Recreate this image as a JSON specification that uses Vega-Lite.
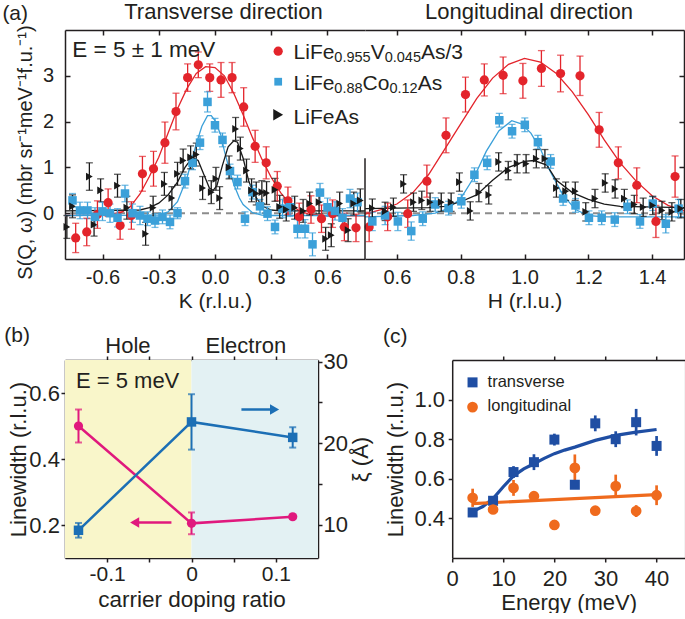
{
  "$schema": "https://vega.github.io/schema/vega-lite/v6.json",
  "padding": {"left": 2, "top": 0, "right": 0, "bottom": 0},
  "background": "white",
  "datasets": {
    "aLpts": [
      {"k": -0.743, "s": -0.54, "e": 0.32, "c": "V"}, {"k": -0.684, "s": -0.41, "e": 0.3, "c": "V"}, {"k": -0.627, "s": -0.03, "e": 0.3, "c": "V"}, {"k": -0.57, "s": 0.23, "e": 0.3, "c": "V"}, {"k": -0.506, "s": -0.27, "e": 0.3, "c": "V"}, {"k": -0.446, "s": -0.05, "e": 0.3, "c": "V"}, {"k": -0.387, "s": 0.86, "e": 0.38, "c": "V"}, {"k": -0.328, "s": 0.97, "e": 0.38, "c": "V"}, {"k": -0.267, "s": 1.54, "e": 0.45, "c": "V"}, {"k": -0.208, "s": 2.22, "e": 0.4, "c": "V"}, {"k": -0.146, "s": 2.96, "e": 0.3, "c": "V"}, {"k": -0.089, "s": 3.24, "e": 0.28, "c": "V"}, {"k": -0.028, "s": 2.96, "e": 0.3, "c": "V"}, {"k": 0.032, "s": 2.91, "e": 0.38, "c": "V"}, {"k": 0.091, "s": 2.96, "e": 0.33, "c": "V"}, {"k": 0.153, "s": 2.32, "e": 0.42, "c": "V"}, {"k": 0.214, "s": 1.46, "e": 0.35, "c": "V"}, {"k": 0.273, "s": 1.1, "e": 0.35, "c": "V"}, {"k": 0.332, "s": 0.59, "e": 0.32, "c": "V"}, {"k": 0.389, "s": 0.27, "e": 0.3, "c": "V"}, {"k": 0.449, "s": -0.08, "e": 0.3, "c": "V"}, {"k": 0.512, "s": 0.08, "e": 0.3, "c": "V"}, {"k": 0.568, "s": -0.12, "e": 0.3, "c": "V"}, {"k": 0.627, "s": -0.01, "e": 0.3, "c": "V"}, {"k": 0.69, "s": -0.3, "e": 0.3, "c": "V"}, {"k": 0.752, "s": -0.32, "e": 0.3, "c": "V"},
      {"k": -0.76, "s": 0.28, "e": 0.15, "c": "Co"}, {"k": -0.72, "s": 0.06, "e": 0.18, "c": "Co"}, {"k": -0.68, "s": 0.06, "e": 0.18, "c": "Co"}, {"k": -0.64, "s": -0.08, "e": 0.2, "c": "Co"}, {"k": -0.6, "s": 0.04, "e": 0.2, "c": "Co"}, {"k": -0.56, "s": 0.0, "e": 0.2, "c": "Co"}, {"k": -0.52, "s": -0.1, "e": 0.2, "c": "Co"}, {"k": -0.48, "s": 0.43, "e": 0.18, "c": "Co"}, {"k": -0.44, "s": 0.0, "e": 0.2, "c": "Co"}, {"k": -0.4, "s": -0.05, "e": 0.2, "c": "Co"}, {"k": -0.36, "s": -0.12, "e": 0.15, "c": "Co"}, {"k": -0.32, "s": -0.16, "e": 0.15, "c": "Co"}, {"k": -0.28, "s": -0.08, "e": 0.15, "c": "Co"}, {"k": -0.24, "s": -0.19, "e": 0.15, "c": "Co"}, {"k": -0.2, "s": 0.0, "e": 0.12, "c": "Co"}, {"k": -0.16, "s": 0.7, "e": 0.15, "c": "Co"}, {"k": -0.12, "s": 1.1, "e": 0.15, "c": "Co"}, {"k": -0.08, "s": 1.54, "e": 0.15, "c": "Co"}, {"k": -0.04, "s": 2.43, "e": 0.22, "c": "Co"}, {"k": 0.0, "s": 1.92, "e": 0.15, "c": "Co"}, {"k": 0.04, "s": 1.6, "e": 0.15, "c": "Co"}, {"k": 0.08, "s": 0.92, "e": 0.15, "c": "Co"}, {"k": 0.12, "s": 0.68, "e": 0.15, "c": "Co"}, {"k": 0.16, "s": -0.12, "e": 0.15, "c": "Co"}, {"k": 0.2, "s": 0.46, "e": 0.15, "c": "Co"}, {"k": 0.24, "s": 0.15, "e": 0.15, "c": "Co"}, {"k": 0.28, "s": -0.01, "e": 0.15, "c": "Co"}, {"k": 0.32, "s": -0.3, "e": 0.15, "c": "Co"}, {"k": 0.36, "s": 0.1, "e": 0.2, "c": "Co"}, {"k": 0.4, "s": 0.13, "e": 0.2, "c": "Co"}, {"k": 0.44, "s": -0.34, "e": 0.2, "c": "Co"}, {"k": 0.48, "s": -0.34, "e": 0.2, "c": "Co"}, {"k": 0.52, "s": -0.68, "e": 0.25, "c": "Co"}, {"k": 0.56, "s": 0.45, "e": 0.2, "c": "Co"}, {"k": 0.6, "s": 0.13, "e": 0.2, "c": "Co"}, {"k": 0.64, "s": 0.05, "e": 0.2, "c": "Co"}, {"k": 0.68, "s": -0.1, "e": 0.2, "c": "Co"}, {"k": 0.72, "s": 0.32, "e": 0.2, "c": "Co"}, {"k": 0.76, "s": 0.24, "e": 0.2, "c": "Co"},
      {"k": -0.79, "s": -0.3, "e": 0.25, "c": "As"}, {"k": -0.76, "s": 0.15, "e": 0.25, "c": "As"}, {"k": -0.67, "s": 0.8, "e": 0.3, "c": "As"}, {"k": -0.645, "s": -0.25, "e": 0.25, "c": "As"}, {"k": -0.61, "s": 0.5, "e": 0.25, "c": "As"}, {"k": -0.52, "s": 0.6, "e": 0.25, "c": "As"}, {"k": -0.47, "s": 0.12, "e": 0.25, "c": "As"}, {"k": -0.37, "s": -0.45, "e": 0.25, "c": "As"}, {"k": -0.33, "s": 0.12, "e": 0.25, "c": "As"}, {"k": -0.27, "s": 0.64, "e": 0.25, "c": "As"}, {"k": -0.23, "s": 0.33, "e": 0.25, "c": "As"}, {"k": -0.2, "s": 0.86, "e": 0.25, "c": "As"}, {"k": -0.17, "s": 1.15, "e": 0.25, "c": "As"}, {"k": -0.13, "s": 1.22, "e": 0.25, "c": "As"}, {"k": -0.1, "s": 1.28, "e": 0.25, "c": "As"}, {"k": -0.066, "s": 0.55, "e": 0.25, "c": "As"}, {"k": -0.02, "s": 0.46, "e": 0.25, "c": "As"}, {"k": 0.005, "s": 0.75, "e": 0.25, "c": "As"}, {"k": 0.025, "s": 0.33, "e": 0.25, "c": "As"}, {"k": 0.075, "s": 1.0, "e": 0.25, "c": "As"}, {"k": 0.11, "s": 1.84, "e": 0.25, "c": "As"}, {"k": 0.135, "s": 1.41, "e": 0.25, "c": "As"}, {"k": 0.168, "s": 0.93, "e": 0.25, "c": "As"}, {"k": 0.195, "s": 0.5, "e": 0.25, "c": "As"}, {"k": 0.22, "s": 0.43, "e": 0.25, "c": "As"}, {"k": 0.25, "s": 0.46, "e": 0.25, "c": "As"}, {"k": 0.275, "s": 0.44, "e": 0.25, "c": "As"}, {"k": 0.32, "s": 0.51, "e": 0.25, "c": "As"}, {"k": 0.345, "s": 0.14, "e": 0.25, "c": "As"}, {"k": 0.38, "s": 0.08, "e": 0.25, "c": "As"}, {"k": 0.425, "s": 0.12, "e": 0.25, "c": "As"}, {"k": 0.47, "s": 0.05, "e": 0.25, "c": "As"}, {"k": 0.505, "s": 0.21, "e": 0.25, "c": "As"}, {"k": 0.555, "s": 0.24, "e": 0.25, "c": "As"}, {"k": 0.59, "s": -0.56, "e": 0.25, "c": "As"}, {"k": 0.62, "s": -0.48, "e": 0.25, "c": "As"}, {"k": 0.665, "s": 0.21, "e": 0.25, "c": "As"}, {"k": 0.71, "s": -0.37, "e": 0.25, "c": "As"}, {"k": 0.74, "s": 0.21, "e": 0.25, "c": "As"}, {"k": 0.775, "s": 0.28, "e": 0.25, "c": "As"}
    ],
    "aLfit": [
      {"k": -0.8, "s": -0.05, "c": "V"}, {"k": -0.6, "s": -0.04, "c": "V"}, {"k": -0.5, "s": 0.02, "c": "V"}, {"k": -0.45, "s": 0.15, "c": "V"}, {"k": -0.4, "s": 0.42, "c": "V"}, {"k": -0.35, "s": 0.8, "c": "V"}, {"k": -0.3, "s": 1.22, "c": "V"}, {"k": -0.25, "s": 1.75, "c": "V"}, {"k": -0.2, "s": 2.28, "c": "V"}, {"k": -0.15, "s": 2.72, "c": "V"}, {"k": -0.1, "s": 3.05, "c": "V"}, {"k": -0.05, "s": 3.2, "c": "V"}, {"k": 0.0, "s": 3.18, "c": "V"}, {"k": 0.05, "s": 3.0, "c": "V"}, {"k": 0.1, "s": 2.62, "c": "V"}, {"k": 0.15, "s": 2.15, "c": "V"}, {"k": 0.2, "s": 1.65, "c": "V"}, {"k": 0.25, "s": 1.18, "c": "V"}, {"k": 0.3, "s": 0.78, "c": "V"}, {"k": 0.35, "s": 0.45, "c": "V"}, {"k": 0.4, "s": 0.2, "c": "V"}, {"k": 0.45, "s": 0.05, "c": "V"}, {"k": 0.5, "s": -0.02, "c": "V"}, {"k": 0.6, "s": -0.06, "c": "V"}, {"k": 0.8, "s": -0.06, "c": "V"},
      {"k": -0.8, "s": -0.05, "c": "Co"}, {"k": -0.3, "s": -0.04, "c": "Co"}, {"k": -0.25, "s": 0.03, "c": "Co"}, {"k": -0.2, "s": 0.25, "c": "Co"}, {"k": -0.15, "s": 0.77, "c": "Co"}, {"k": -0.1, "s": 1.51, "c": "Co"}, {"k": -0.07, "s": 1.9, "c": "Co"}, {"k": -0.04, "s": 2.13, "c": "Co"}, {"k": -0.02, "s": 2.13, "c": "Co"}, {"k": 0.0, "s": 2.02, "c": "Co"}, {"k": 0.03, "s": 1.72, "c": "Co"}, {"k": 0.05, "s": 1.36, "c": "Co"}, {"k": 0.08, "s": 0.9, "c": "Co"}, {"k": 0.1, "s": 0.63, "c": "Co"}, {"k": 0.13, "s": 0.33, "c": "Co"}, {"k": 0.15, "s": 0.19, "c": "Co"}, {"k": 0.2, "s": 0.01, "c": "Co"}, {"k": 0.25, "s": -0.04, "c": "Co"}, {"k": 0.3, "s": -0.05, "c": "Co"}, {"k": 0.8, "s": -0.05, "c": "Co"},
      {"k": -0.8, "s": 0.05, "c": "As"}, {"k": -0.4, "s": 0.07, "c": "As"}, {"k": -0.35, "s": 0.12, "c": "As"}, {"k": -0.3, "s": 0.22, "c": "As"}, {"k": -0.25, "s": 0.4, "c": "As"}, {"k": -0.2, "s": 0.68, "c": "As"}, {"k": -0.16, "s": 1.0, "c": "As"}, {"k": -0.12, "s": 1.22, "c": "As"}, {"k": -0.09, "s": 1.15, "c": "As"}, {"k": -0.06, "s": 0.85, "c": "As"}, {"k": -0.03, "s": 0.55, "c": "As"}, {"k": -0.01, "s": 0.5, "c": "As"}, {"k": 0.01, "s": 0.6, "c": "As"}, {"k": 0.04, "s": 1.05, "c": "As"}, {"k": 0.07, "s": 1.45, "c": "As"}, {"k": 0.1, "s": 1.58, "c": "As"}, {"k": 0.12, "s": 1.55, "c": "As"}, {"k": 0.15, "s": 1.2, "c": "As"}, {"k": 0.18, "s": 0.7, "c": "As"}, {"k": 0.21, "s": 0.4, "c": "As"}, {"k": 0.23, "s": 0.28, "c": "As"}, {"k": 0.26, "s": 0.14, "c": "As"}, {"k": 0.3, "s": 0.07, "c": "As"}, {"k": 0.35, "s": 0.05, "c": "As"}, {"k": 0.8, "s": 0.05, "c": "As"}
    ],
    "aRpts": [
      {"h": 0.513, "s": -0.3, "e": 0.32, "c": "V"}, {"h": 0.571, "s": -0.08, "e": 0.3, "c": "V"}, {"h": 0.634, "s": -0.01, "e": 0.3, "c": "V"}, {"h": 0.694, "s": 0.7, "e": 0.35, "c": "V"}, {"h": 0.754, "s": 1.7, "e": 0.38, "c": "V"}, {"h": 0.815, "s": 2.59, "e": 0.38, "c": "V"}, {"h": 0.874, "s": 2.91, "e": 0.35, "c": "V"}, {"h": 0.933, "s": 3.01, "e": 0.4, "c": "V"}, {"h": 0.995, "s": 2.89, "e": 0.38, "c": "V"}, {"h": 1.053, "s": 3.16, "e": 0.39, "c": "V"}, {"h": 1.113, "s": 3.05, "e": 0.4, "c": "V"}, {"h": 1.174, "s": 3.0, "e": 0.43, "c": "V"}, {"h": 1.234, "s": 1.82, "e": 0.38, "c": "V"}, {"h": 1.294, "s": 1.1, "e": 0.35, "c": "V"}, {"h": 1.352, "s": 0.61, "e": 0.38, "c": "V"}, {"h": 1.412, "s": -0.18, "e": 0.35, "c": "V"}, {"h": 1.472, "s": 0.8, "e": 0.45, "c": "V"},
      {"h": 0.523, "s": -0.18, "e": 0.2, "c": "Co"}, {"h": 0.563, "s": -0.05, "e": 0.2, "c": "Co"}, {"h": 0.603, "s": -0.18, "e": 0.2, "c": "Co"}, {"h": 0.645, "s": -0.39, "e": 0.2, "c": "Co"}, {"h": 0.681, "s": -0.12, "e": 0.15, "c": "Co"}, {"h": 0.72, "s": 0.19, "e": 0.15, "c": "Co"}, {"h": 0.762, "s": 0.11, "e": 0.15, "c": "Co"}, {"h": 0.802, "s": 0.26, "e": 0.15, "c": "Co"}, {"h": 0.843, "s": 0.84, "e": 0.15, "c": "Co"}, {"h": 0.883, "s": 1.1, "e": 0.15, "c": "Co"}, {"h": 0.921, "s": 2.03, "e": 0.15, "c": "Co"}, {"h": 0.961, "s": 1.79, "e": 0.15, "c": "Co"}, {"h": 1.001, "s": 1.93, "e": 0.15, "c": "Co"}, {"h": 1.042, "s": 1.55, "e": 0.15, "c": "Co"}, {"h": 1.082, "s": 1.13, "e": 0.15, "c": "Co"}, {"h": 1.121, "s": 0.32, "e": 0.15, "c": "Co"}, {"h": 1.16, "s": 0.17, "e": 0.15, "c": "Co"}, {"h": 1.202, "s": -0.1, "e": 0.15, "c": "Co"}, {"h": 1.242, "s": -0.1, "e": 0.15, "c": "Co"}, {"h": 1.283, "s": -0.14, "e": 0.15, "c": "Co"}, {"h": 1.323, "s": 0.14, "e": 0.15, "c": "Co"}, {"h": 1.362, "s": -0.18, "e": 0.15, "c": "Co"}, {"h": 1.402, "s": 0.21, "e": 0.15, "c": "Co"}, {"h": 1.443, "s": -0.23, "e": 0.2, "c": "Co"}, {"h": 1.483, "s": 0.1, "e": 0.2, "c": "Co"},
      {"h": 0.523, "s": 0.11, "e": 0.2, "c": "As"}, {"h": 0.563, "s": 0.04, "e": 0.2, "c": "As"}, {"h": 0.589, "s": 0.13, "e": 0.2, "c": "As"}, {"h": 0.621, "s": 0.64, "e": 0.2, "c": "As"}, {"h": 0.652, "s": 0.24, "e": 0.2, "c": "As"}, {"h": 0.678, "s": 0.28, "e": 0.2, "c": "As"}, {"h": 0.704, "s": 0.24, "e": 0.2, "c": "As"}, {"h": 0.739, "s": 0.24, "e": 0.2, "c": "As"}, {"h": 0.77, "s": 0.24, "e": 0.2, "c": "As"}, {"h": 0.796, "s": 0.68, "e": 0.2, "c": "As"}, {"h": 0.83, "s": 0.05, "e": 0.2, "c": "As"}, {"h": 0.857, "s": 0.45, "e": 0.2, "c": "As"}, {"h": 0.888, "s": 0.4, "e": 0.2, "c": "As"}, {"h": 0.919, "s": 1.12, "e": 0.2, "c": "As"}, {"h": 0.949, "s": 0.93, "e": 0.2, "c": "As"}, {"h": 0.977, "s": 1.08, "e": 0.2, "c": "As"}, {"h": 1.005, "s": 1.08, "e": 0.2, "c": "As"}, {"h": 1.037, "s": 1.19, "e": 0.2, "c": "As"}, {"h": 1.064, "s": 1.19, "e": 0.2, "c": "As"}, {"h": 1.1, "s": 0.55, "e": 0.2, "c": "As"}, {"h": 1.129, "s": 0.48, "e": 0.2, "c": "As"}, {"h": 1.159, "s": 0.48, "e": 0.2, "c": "As"}, {"h": 1.192, "s": 0.03, "e": 0.2, "c": "As"}, {"h": 1.221, "s": 0.32, "e": 0.2, "c": "As"}, {"h": 1.253, "s": 0.66, "e": 0.2, "c": "As"}, {"h": 1.284, "s": 0.53, "e": 0.2, "c": "As"}, {"h": 1.313, "s": 0.32, "e": 0.2, "c": "As"}, {"h": 1.344, "s": 0.19, "e": 0.2, "c": "As"}, {"h": 1.372, "s": 0.13, "e": 0.2, "c": "As"}, {"h": 1.402, "s": 0.17, "e": 0.2, "c": "As"}, {"h": 1.431, "s": 0.06, "e": 0.2, "c": "As"}, {"h": 1.462, "s": 0.03, "e": 0.2, "c": "As"}, {"h": 1.49, "s": 0.1, "e": 0.2, "c": "As"}
    ],
    "aRfit": [
      {"h": 0.5, "s": -0.02, "c": "V"}, {"h": 0.55, "s": 0.08, "c": "V"}, {"h": 0.6, "s": 0.2, "c": "V"}, {"h": 0.65, "s": 0.45, "c": "V"}, {"h": 0.7, "s": 0.85, "c": "V"}, {"h": 0.75, "s": 1.4, "c": "V"}, {"h": 0.8, "s": 1.95, "c": "V"}, {"h": 0.85, "s": 2.5, "c": "V"}, {"h": 0.9, "s": 2.95, "c": "V"}, {"h": 0.95, "s": 3.25, "c": "V"}, {"h": 1.0, "s": 3.38, "c": "V"}, {"h": 1.05, "s": 3.3, "c": "V"}, {"h": 1.1, "s": 3.05, "c": "V"}, {"h": 1.15, "s": 2.65, "c": "V"}, {"h": 1.2, "s": 2.15, "c": "V"}, {"h": 1.25, "s": 1.6, "c": "V"}, {"h": 1.3, "s": 1.1, "c": "V"}, {"h": 1.35, "s": 0.7, "c": "V"}, {"h": 1.4, "s": 0.38, "c": "V"}, {"h": 1.45, "s": 0.17, "c": "V"}, {"h": 1.5, "s": 0.05, "c": "V"},
      {"h": 0.5, "s": -0.08, "c": "Co"}, {"h": 0.65, "s": -0.05, "c": "Co"}, {"h": 0.72, "s": 0.0, "c": "Co"}, {"h": 0.76, "s": 0.1, "c": "Co"}, {"h": 0.8, "s": 0.32, "c": "Co"}, {"h": 0.843, "s": 0.8, "c": "Co"}, {"h": 0.88, "s": 1.35, "c": "Co"}, {"h": 0.92, "s": 1.8, "c": "Co"}, {"h": 0.96, "s": 2.02, "c": "Co"}, {"h": 0.99, "s": 1.95, "c": "Co"}, {"h": 1.02, "s": 1.75, "c": "Co"}, {"h": 1.05, "s": 1.4, "c": "Co"}, {"h": 1.08, "s": 0.92, "c": "Co"}, {"h": 1.12, "s": 0.4, "c": "Co"}, {"h": 1.16, "s": 0.08, "c": "Co"}, {"h": 1.2, "s": -0.05, "c": "Co"}, {"h": 1.25, "s": -0.08, "c": "Co"}, {"h": 1.5, "s": -0.08, "c": "Co"},
      {"h": 0.5, "s": 0.1, "c": "As"}, {"h": 0.7, "s": 0.12, "c": "As"}, {"h": 0.75, "s": 0.15, "c": "As"}, {"h": 0.8, "s": 0.25, "c": "As"}, {"h": 0.85, "s": 0.4, "c": "As"}, {"h": 0.9, "s": 0.72, "c": "As"}, {"h": 0.95, "s": 1.0, "c": "As"}, {"h": 1.0, "s": 1.13, "c": "As"}, {"h": 1.03, "s": 1.15, "c": "As"}, {"h": 1.07, "s": 1.05, "c": "As"}, {"h": 1.1, "s": 0.72, "c": "As"}, {"h": 1.15, "s": 0.45, "c": "As"}, {"h": 1.2, "s": 0.3, "c": "As"}, {"h": 1.25, "s": 0.2, "c": "As"}, {"h": 1.3, "s": 0.15, "c": "As"}, {"h": 1.5, "s": 0.12, "c": "As"}
    ],
    "bw": [
      {"d": -0.134, "w": 0.5, "e": 0.05}, {"d": 0.0, "w": 0.205, "e": 0.033}, {"d": 0.12, "w": 0.225, "e": 0.006}
    ],
    "bx": [
      {"d": -0.134, "xi": 9.3, "e": 0.9}, {"d": 0.0, "xi": 22.6, "e": 3.4}, {"d": 0.12, "xi": 20.7, "e": 1.25}
    ],
    "cpts": [
      {"en": 4, "w": 0.43, "e": 0.0, "c": "T"}, {"en": 8, "w": 0.489, "e": 0.02, "c": "T"}, {"en": 12, "w": 0.634, "e": 0.03, "c": "T"}, {"en": 16, "w": 0.684, "e": 0.04, "c": "T"}, {"en": 20, "w": 0.798, "e": 0.03, "c": "T"}, {"en": 24, "w": 0.57, "e": 0.01, "c": "T"}, {"en": 28, "w": 0.88, "e": 0.04, "c": "T"}, {"en": 32, "w": 0.8, "e": 0.04, "c": "T"}, {"en": 36, "w": 0.886, "e": 0.067, "c": "T"}, {"en": 40, "w": 0.766, "e": 0.05, "c": "T"},
      {"en": 4, "w": 0.504, "e": 0.046, "c": "L"}, {"en": 8, "w": 0.445, "e": 0.02, "c": "L"}, {"en": 12, "w": 0.554, "e": 0.04, "c": "L"}, {"en": 16, "w": 0.512, "e": 0.02, "c": "L"}, {"en": 20, "w": 0.367, "e": 0.0, "c": "L"}, {"en": 24, "w": 0.655, "e": 0.068, "c": "L"}, {"en": 28, "w": 0.439, "e": 0.01, "c": "L"}, {"en": 32, "w": 0.563, "e": 0.058, "c": "L"}, {"en": 36, "w": 0.437, "e": 0.03, "c": "L"}, {"en": 40, "w": 0.517, "e": 0.05, "c": "L"}
    ],
    "cfit": [
      {"en": 4, "w": 0.434, "c": "T"}, {"en": 6, "w": 0.46, "c": "T"}, {"en": 8, "w": 0.5, "c": "T"}, {"en": 10, "w": 0.56, "c": "T"}, {"en": 12, "w": 0.615, "c": "T"}, {"en": 14, "w": 0.65, "c": "T"}, {"en": 16, "w": 0.676, "c": "T"}, {"en": 18, "w": 0.703, "c": "T"}, {"en": 20, "w": 0.727, "c": "T"}, {"en": 22, "w": 0.745, "c": "T"}, {"en": 24, "w": 0.76, "c": "T"}, {"en": 28, "w": 0.794, "c": "T"}, {"en": 32, "w": 0.819, "c": "T"}, {"en": 36, "w": 0.836, "c": "T"}, {"en": 40, "w": 0.849, "c": "T"},
      {"en": 4, "w": 0.475, "c": "L"}, {"en": 40, "w": 0.52, "c": "L"}
    ]
  },
  "spacing": 12,
  "bounds": "full",
  "resolve": {"scale": {"color": "independent", "shape": "independent", "size": "independent"}},
  "vconcat": [
    {
      "hconcat": [
        {
          "width": 300, "height": 229,
          "data": {"values": [{}]},
          "resolve": {"axis": {"x": "independent", "y": "independent"}},
          "layer": [
            {"mark": {"type": "rule", "color": "#8c8c8c", "strokeDash": [7, 5], "strokeWidth": 2},
             "encoding": {"y": {"datum": 0, "type": "quantitative", "scale": {"domain": [-1, 4], "nice": false, "zero": false}, "axis": null}}},
            {"data": {"name": "aLfit"}, "mark": {"type": "line", "strokeWidth": 1.3},
             "encoding": {
               "x": {"field": "k", "type": "quantitative", "scale": {"domain": [-0.8, 0.8], "nice": false, "zero": false},
                     "axis": {"values": [-0.6, -0.3, 0, 0.3, 0.6], "title": "K (r.l.u.)", "labelExpr": "replace(datum.label, '\u2212', '-')", "labelFontSize": 20, "labelPadding": 13.5, "titlePadding": 3, "titleFontSize": 21}},
               "y": {"field": "s", "type": "quantitative",
                     "axis": {"values": [0, 1, 2, 3], "title": "S(Q, ω) (mbr sr⁻¹meV⁻¹f.u.⁻¹)", "titleFontSize": 20, "labelFontSize": 20, "labelPadding": 16.3, "titlePadding": 7, "titleY": 122}},
               "color": {"field": "c", "type": "nominal", "scale": {"domain": ["V", "Co", "As"], "range": ["#e3242b", "#3ba0d9", "#1a1a1a"]}, "legend": null}}},
            {"data": {"name": "aLpts"}, "mark": {"type": "errorbar", "ticks": {"size": 7, "thickness": 1.3}, "thickness": 1.3},
             "encoding": {"x": {"field": "k", "type": "quantitative", "axis": null}, "y": {"field": "s", "type": "quantitative", "axis": null}, "yError": {"field": "e"}, "color": {"field": "c", "type": "nominal", "legend": null}}},
            {"data": {"name": "aLpts"}, "mark": {"type": "point", "filled": true, "opacity": 1},
             "encoding": {
               "x": {"field": "k", "type": "quantitative", "axis": {"orient": "top", "values": [-0.6, -0.3, 0, 0.3, 0.6], "labels": false, "title": null}},
               "y": {"field": "s", "type": "quantitative", "axis": null},
               "color": {"field": "c", "type": "nominal", "legend": null},
               "shape": {"field": "c", "type": "nominal", "scale": {"domain": ["V", "Co", "As"], "range": ["circle", "square", "triangle-right"]}, "legend": null},
               "size": {"field": "c", "type": "nominal", "scale": {"domain": ["V", "Co", "As"], "range": [85, 60, 130]}, "legend": null}}},
            {"mark": {"type": "text", "text": "(a)", "fontSize": 21, "align": "left", "baseline": "alphabetic"},
             "encoding": {"x": {"datum": -1.134, "type": "quantitative", "axis": null}, "y": {"datum": 4.214, "type": "quantitative", "axis": null}}},
            {"mark": {"type": "text", "text": "Transverse direction", "fontSize": 22, "align": "center", "baseline": "alphabetic"},
             "encoding": {"x": {"datum": 0.045, "type": "quantitative", "axis": null}, "y": {"datum": 4.25, "type": "quantitative", "axis": null}}},
            {"mark": {"type": "text", "text": "E = 5 ± 1 meV", "fontSize": 22.5, "align": "left", "baseline": "alphabetic"},
             "encoding": {"x": {"datum": -0.761, "type": "quantitative", "axis": null}, "y": {"datum": 3.41, "type": "quantitative", "axis": null}}},
            {"mark": {"type": "point", "filled": true, "opacity": 1, "shape": "circle", "size": 85, "color": "#e3242b"},
             "encoding": {"x": {"datum": 0.337, "type": "quantitative", "axis": null}, "y": {"datum": 3.537, "type": "quantitative", "axis": null}}},
            {"mark": {"type": "point", "filled": true, "opacity": 1, "shape": "square", "size": 60, "color": "#3ba0d9"},
             "encoding": {"x": {"datum": 0.337, "type": "quantitative", "axis": null}, "y": {"datum": 2.871, "type": "quantitative", "axis": null}}},
            {"mark": {"type": "point", "filled": true, "opacity": 1, "shape": "triangle-right", "size": 130, "color": "#1a1a1a"},
             "encoding": {"x": {"datum": 0.337, "type": "quantitative", "axis": null}, "y": {"datum": 2.151, "type": "quantitative", "axis": null}}},
            {"mark": {"type": "text", "text": "LiFe", "fontSize": 21, "align": "left", "baseline": "alphabetic"},
             "encoding": {"x": {"datum": 0.419, "type": "quantitative", "axis": null}, "y": {"datum": 3.358, "type": "quantitative", "axis": null}}},
            {"mark": {"type": "text", "text": "0.955", "fontSize": 14.5, "align": "left", "baseline": "alphabetic", "dx": 40.8, "dy": 3},
             "encoding": {"x": {"datum": 0.419, "type": "quantitative", "axis": null}, "y": {"datum": 3.358, "type": "quantitative", "axis": null}}},
            {"mark": {"type": "text", "text": "V", "fontSize": 21, "align": "left", "baseline": "alphabetic", "dx": 77.1},
             "encoding": {"x": {"datum": 0.419, "type": "quantitative", "axis": null}, "y": {"datum": 3.358, "type": "quantitative", "axis": null}}},
            {"mark": {"type": "text", "text": "0.045", "fontSize": 14.5, "align": "left", "baseline": "alphabetic", "dx": 91.1, "dy": 3},
             "encoding": {"x": {"datum": 0.419, "type": "quantitative", "axis": null}, "y": {"datum": 3.358, "type": "quantitative", "axis": null}}},
            {"mark": {"type": "text", "text": "As/3", "fontSize": 21, "align": "left", "baseline": "alphabetic", "dx": 127.4},
             "encoding": {"x": {"datum": 0.419, "type": "quantitative", "axis": null}, "y": {"datum": 3.358, "type": "quantitative", "axis": null}}},
            {"mark": {"type": "text", "text": "LiFe", "fontSize": 21, "align": "left", "baseline": "alphabetic"},
             "encoding": {"x": {"datum": 0.419, "type": "quantitative", "axis": null}, "y": {"datum": 2.697, "type": "quantitative", "axis": null}}},
            {"mark": {"type": "text", "text": "0.88", "fontSize": 14.5, "align": "left", "baseline": "alphabetic", "dx": 40.8, "dy": 3},
             "encoding": {"x": {"datum": 0.419, "type": "quantitative", "axis": null}, "y": {"datum": 2.697, "type": "quantitative", "axis": null}}},
            {"mark": {"type": "text", "text": "Co", "fontSize": 21, "align": "left", "baseline": "alphabetic", "dx": 69.0},
             "encoding": {"x": {"datum": 0.419, "type": "quantitative", "axis": null}, "y": {"datum": 2.697, "type": "quantitative", "axis": null}}},
            {"mark": {"type": "text", "text": "0.12", "fontSize": 14.5, "align": "left", "baseline": "alphabetic", "dx": 95.9, "dy": 3},
             "encoding": {"x": {"datum": 0.419, "type": "quantitative", "axis": null}, "y": {"datum": 2.697, "type": "quantitative", "axis": null}}},
            {"mark": {"type": "text", "text": "As", "fontSize": 21, "align": "left", "baseline": "alphabetic", "dx": 124.1},
             "encoding": {"x": {"datum": 0.419, "type": "quantitative", "axis": null}, "y": {"datum": 2.697, "type": "quantitative", "axis": null}}},
            {"mark": {"type": "text", "text": "LiFeAs", "fontSize": 21, "align": "left", "baseline": "alphabetic"},
             "encoding": {"x": {"datum": 0.419, "type": "quantitative", "axis": null}, "y": {"datum": 1.954, "type": "quantitative", "axis": null}}}
          ]
        },
        {
          "width": 319, "height": 229,
          "data": {"values": [{}]},
          "resolve": {"axis": {"x": "independent", "y": "independent"}},
          "layer": [
            {"mark": {"type": "rule", "color": "#8c8c8c", "strokeDash": [7, 5], "strokeWidth": 2},
             "encoding": {"y": {"datum": 0, "type": "quantitative", "scale": {"domain": [-1, 4], "nice": false, "zero": false}, "axis": null}}},
            {"data": {"name": "aRfit"}, "mark": {"type": "line", "strokeWidth": 1.3},
             "encoding": {
               "x": {"field": "h", "type": "quantitative", "scale": {"domain": [0.5, 1.5], "nice": false, "zero": false},
                     "axis": {"values": [0.6, 0.8, 1.0, 1.2, 1.4], "format": ".1f", "title": "H (r.l.u.)", "labelFontSize": 20, "labelPadding": 13.5, "titlePadding": 3, "titleFontSize": 21}},
               "y": {"field": "s", "type": "quantitative", "axis": null},
               "color": {"field": "c", "type": "nominal", "scale": {"domain": ["V", "Co", "As"], "range": ["#e3242b", "#3ba0d9", "#1a1a1a"]}, "legend": null}}},
            {"data": {"name": "aRpts"}, "mark": {"type": "errorbar", "ticks": {"size": 7, "thickness": 1.3}, "thickness": 1.3},
             "encoding": {"x": {"field": "h", "type": "quantitative", "axis": null}, "y": {"field": "s", "type": "quantitative", "axis": null}, "yError": {"field": "e"}, "color": {"field": "c", "type": "nominal", "legend": null}}},
            {"data": {"name": "aRpts"}, "mark": {"type": "point", "filled": true, "opacity": 1},
             "encoding": {
               "x": {"field": "h", "type": "quantitative", "axis": {"orient": "top", "values": [0.6, 0.8, 1.0, 1.2, 1.4], "labels": false, "title": null}},
               "y": {"field": "s", "type": "quantitative", "axis": {"orient": "right", "values": [0, 1, 2, 3], "labels": false, "title": null}},
               "color": {"field": "c", "type": "nominal", "legend": null},
               "shape": {"field": "c", "type": "nominal", "scale": {"domain": ["V", "Co", "As"], "range": ["circle", "square", "triangle-right"]}, "legend": null},
               "size": {"field": "c", "type": "nominal", "scale": {"domain": ["V", "Co", "As"], "range": [85, 60, 130]}, "legend": null}}},
            {"mark": {"type": "rule", "color": "#231f20", "strokeWidth": 1.5},
             "encoding": {"x": {"datum": 0.5, "type": "quantitative", "axis": null}, "y": {"datum": -1, "type": "quantitative", "axis": null}, "y2": {"datum": 1.2}}},
            {"mark": {"type": "text", "text": "Longitudinal direction", "fontSize": 22, "align": "center", "baseline": "alphabetic"},
             "encoding": {"x": {"datum": 1.014, "type": "quantitative", "axis": null}, "y": {"datum": 4.25, "type": "quantitative", "axis": null}}}
          ]
        }
      ],
      "spacing": 0,
      "bounds": "flush"
    },
    {
      "hconcat": [
        {
          "width": 253, "height": 198,
          "data": {"values": [{}]},
          "resolve": {"scale": {"y": "independent"}, "axis": {"x": "independent", "y": "independent"}},
          "layer": [
            {"mark": {"type": "rect", "color": "#f9f6ca"},
             "encoding": {"x": {"datum": -0.15, "type": "quantitative", "scale": {"domain": [-0.15, 0.15], "nice": false, "zero": false}, "axis": null}, "x2": {"datum": 0}}},
            {"mark": {"type": "rect", "color": "#e3f1f3"},
             "encoding": {"x": {"datum": 0, "type": "quantitative", "axis": null}, "x2": {"datum": 0.15}}},
            {
              "layer": [
                {"data": {"name": "bw"}, "mark": {"type": "line", "color": "#e0197d", "strokeWidth": 2.5},
                 "encoding": {
                   "x": {"field": "d", "type": "quantitative", "title": "carrier doping ratio",
                         "axis": {"values": [-0.1, -0.05, 0, 0.05, 0.1], "labelExpr": "datum.value == 0 ? '0' : datum.value < -0.07 ? '-0.1' : datum.value > 0.07 ? '0.1' : ''", "tickSize": 4, "labelFontSize": 21, "labelPadding": 1.7, "titleFontSize": 22.5, "titlePadding": 3.7}},
                   "y": {"field": "w", "type": "quantitative", "title": "Linewidth (r.l.u.)", "scale": {"domain": [0.1, 0.7], "nice": false, "zero": false},
                         "axis": {"values": [0.2, 0.4, 0.6], "format": ".1f", "tickSize": 4, "labelFontSize": 22, "labelPadding": 1.6, "titleFontSize": 22, "titlePadding": -1.5}}}},
                {"data": {"name": "bw"}, "mark": {"type": "errorbar", "color": "#e0197d", "ticks": {"size": 7, "thickness": 2}, "thickness": 2},
                 "encoding": {"x": {"field": "d", "type": "quantitative", "title": "carrier doping ratio"}, "y": {"field": "w", "type": "quantitative", "title": "Linewidth (r.l.u.)"}, "yError": {"field": "e"}}},
                {"data": {"name": "bw"}, "mark": {"type": "point", "filled": true, "opacity": 1, "shape": "circle", "size": 85, "color": "#e0197d"},
                 "encoding": {"x": {"field": "d", "type": "quantitative", "title": "carrier doping ratio"}, "y": {"field": "w", "type": "quantitative", "title": "Linewidth (r.l.u.)"}}},
                {"mark": {"type": "rule", "color": "#e0197d", "strokeWidth": 2.5},
                 "encoding": {"x": {"datum": -0.0238, "type": "quantitative"}, "x2": {"datum": -0.066}, "y": {"datum": 0.2075, "type": "quantitative"}}},
                {"mark": {"type": "point", "filled": true, "opacity": 1, "shape": "triangle-left", "size": 110, "color": "#e0197d"},
                 "encoding": {"x": {"datum": -0.0674, "type": "quantitative"}, "y": {"datum": 0.2075, "type": "quantitative"}}},
                {"mark": {"type": "rule", "color": "#1c6fb5", "strokeWidth": 2.5},
                 "encoding": {"x": {"datum": 0.0592, "type": "quantitative"}, "x2": {"datum": 0.097}, "y": {"datum": 0.55, "type": "quantitative"}}},
                {"mark": {"type": "point", "filled": true, "opacity": 1, "shape": "triangle-right", "size": 110, "color": "#1c6fb5"},
                 "encoding": {"x": {"datum": 0.0985, "type": "quantitative"}, "y": {"datum": 0.55, "type": "quantitative"}}},
                {"mark": {"type": "text", "text": "(b)", "fontSize": 21, "align": "left", "baseline": "alphabetic"},
                 "encoding": {"x": {"datum": -0.222, "type": "quantitative"}, "y": {"datum": 0.755, "type": "quantitative"}}},
                {"mark": {"type": "text", "text": "Hole", "fontSize": 22, "align": "center", "baseline": "alphabetic"},
                 "encoding": {"x": {"datum": -0.0754, "type": "quantitative"}, "y": {"datum": 0.722, "type": "quantitative"}}},
                {"mark": {"type": "text", "text": "Electron", "fontSize": 22, "align": "center", "baseline": "alphabetic"},
                 "encoding": {"x": {"datum": 0.0645, "type": "quantitative"}, "y": {"datum": 0.722, "type": "quantitative"}}},
                {"mark": {"type": "text", "text": "E = 5 meV", "fontSize": 22, "align": "left", "baseline": "alphabetic"},
                 "encoding": {"x": {"datum": -0.137, "type": "quantitative"}, "y": {"datum": 0.615, "type": "quantitative"}}}
              ]
            },
            {
              "layer": [
                {"data": {"name": "bx"}, "mark": {"type": "line", "color": "#1c6fb5", "strokeWidth": 2.5},
                 "encoding": {
                   "x": {"field": "d", "type": "quantitative", "title": null, "axis": {"orient": "top", "values": [-0.1, -0.05, 0, 0.05, 0.1], "labels": false, "tickSize": 4}},
                   "y": {"field": "xi", "type": "quantitative", "title": "ξ (Å)", "scale": {"domain": [5.9, 30.2], "nice": false, "zero": false},
                         "axis": {"orient": "right", "values": [10, 15, 20, 25, 30], "labelExpr": "datum.value % 10 == 0 ? datum.label : ''", "titleAngle": 270, "titleBaseline": "top", "tickSize": 4, "labelFontSize": 22, "labelPadding": 1, "titleFontSize": 22, "titlePadding": 3}}}},
                {"data": {"name": "bx"}, "mark": {"type": "errorbar", "color": "#1c6fb5", "ticks": {"size": 7, "thickness": 2}, "thickness": 2},
                 "encoding": {"x": {"field": "d", "type": "quantitative", "title": null}, "y": {"field": "xi", "type": "quantitative", "title": "ξ (Å)"}, "yError": {"field": "e"}}},
                {"data": {"name": "bx"}, "mark": {"type": "point", "filled": true, "opacity": 1, "shape": "square", "size": 90, "color": "#1c6fb5"},
                 "encoding": {"x": {"field": "d", "type": "quantitative", "title": null}, "y": {"field": "xi", "type": "quantitative", "title": "ξ (Å)"}}}
              ]
            }
          ]
        },
        {
          "width": 233, "height": 198,
          "data": {"values": [{}]},
          "resolve": {"axis": {"x": "independent", "y": "independent"}},
          "layer": [
            {"data": {"name": "cfit"}, "mark": {"type": "line", "strokeWidth": 3.2},
             "encoding": {
               "x": {"field": "en", "type": "quantitative", "scale": {"domain": [0, 45.6], "nice": false, "zero": false},
                     "axis": {"values": [0, 10, 20, 30, 40], "title": "Energy (meV)", "tickSize": 4, "labelFontSize": 22, "labelPadding": 6, "titleFontSize": 22, "titlePadding": 3}},
               "y": {"field": "w", "type": "quantitative", "scale": {"domain": [0.2, 1.2], "nice": false, "zero": false},
                     "axis": {"values": [0.4, 0.6, 0.8, 1.0], "format": ".1f", "title": "Linewidth (r.l.u.)", "tickSize": 4, "labelFontSize": 22, "labelPadding": 3.7, "titleFontSize": 22, "titlePadding": 6}},
               "color": {"field": "c", "type": "nominal", "scale": {"domain": ["T", "L"], "range": ["#1f4ea3", "#ef6a1d"]}, "legend": null}}},
            {"data": {"name": "cpts"}, "mark": {"type": "errorbar", "thickness": 2.7},
             "encoding": {"x": {"field": "en", "type": "quantitative", "axis": null}, "y": {"field": "w", "type": "quantitative", "axis": null}, "yError": {"field": "e"}, "color": {"field": "c", "type": "nominal", "legend": null}}},
            {"data": {"name": "cpts"}, "mark": {"type": "point", "filled": true, "opacity": 1},
             "encoding": {
               "x": {"field": "en", "type": "quantitative", "axis": {"orient": "top", "values": [10, 20, 30, 40], "labels": false, "title": null, "tickSize": 4}},
               "y": {"field": "w", "type": "quantitative", "axis": {"orient": "right", "values": [0.4, 0.6, 0.8, 1.0], "labels": false, "title": null, "tickSize": 4}},
               "color": {"field": "c", "type": "nominal", "legend": null},
               "shape": {"field": "c", "type": "nominal", "scale": {"domain": ["T", "L"], "range": ["square", "circle"]}, "legend": null},
               "size": {"field": "c", "type": "nominal", "scale": {"domain": ["T", "L"], "range": [100, 115]}, "legend": null}}},
            {"mark": {"type": "point", "filled": true, "opacity": 1, "shape": "square", "size": 100, "color": "#1f4ea3"},
             "encoding": {"x": {"datum": 3.98, "type": "quantitative", "axis": null}, "y": {"datum": 1.087, "type": "quantitative", "axis": null}}},
            {"mark": {"type": "point", "filled": true, "opacity": 1, "shape": "circle", "size": 115, "color": "#ef6a1d"},
             "encoding": {"x": {"datum": 3.98, "type": "quantitative", "axis": null}, "y": {"datum": 0.962, "type": "quantitative", "axis": null}}},
            {"mark": {"type": "text", "text": "transverse", "fontSize": 16.5, "align": "left", "baseline": "alphabetic"},
             "encoding": {"x": {"datum": 6.92, "type": "quantitative", "axis": null}, "y": {"datum": 1.064, "type": "quantitative", "axis": null}}},
            {"mark": {"type": "text", "text": "longitudinal", "fontSize": 16.5, "align": "left", "baseline": "alphabetic"},
             "encoding": {"x": {"datum": 6.92, "type": "quantitative", "axis": null}, "y": {"datum": 0.94, "type": "quantitative", "axis": null}}},
            {"mark": {"type": "text", "text": "(c)", "fontSize": 21, "align": "left", "baseline": "alphabetic"},
             "encoding": {"x": {"datum": -13.53, "type": "quantitative", "axis": null}, "y": {"datum": 1.284, "type": "quantitative", "axis": null}}}
          ]
        }
      ],
      "spacing": 10.2,
      "bounds": "full"
    }
  ],
  "config": {
    "view": {"stroke": null},
    "font": "Liberation Sans",
    "axis": {
      "grid": false, "domainColor": "#231f20", "domainWidth": 1.5, "tickColor": "#231f20", "tickWidth": 1.5, "tickSize": -5,
      "labelFont": "Liberation Sans", "labelFontSize": 20, "labelColor": "#231f20", "labelPadding": 8, "labelFlush": false, "labelOverlap": false,
      "titleFont": "Liberation Sans", "titleFontSize": 22, "titleFontWeight": "normal", "titleColor": "#231f20"
    },
    "text": {"font": "Liberation Sans", "color": "#231f20"}
  }
}
